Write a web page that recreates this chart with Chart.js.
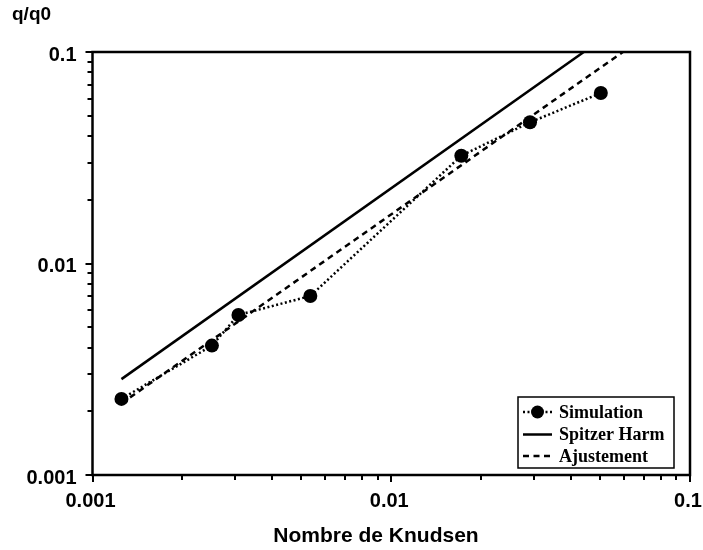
<!DOCTYPE html>
<html lang="fr">
<head>
<meta charset="UTF-8">
<title>q/q0 vs Nombre de Knudsen</title>
<script src="https://cdn.jsdelivr.net/npm/chart.js"></script>
<style>
  * { margin: 0; padding: 0; box-sizing: border-box; }
  body { background: #fff; width: 703px; height: 550px; overflow: hidden; }
  canvas { display: block; }
</style>
</head>
<body>
<canvas id="chart" width="703" height="550"></canvas>
<script>
// Data
const knudsen = [0.00125, 0.00251, 0.00308, 0.00536, 0.01716, 0.02914, 0.0503];
const simulation = [0.00229, 0.00409, 0.00571, 0.00702, 0.03234, 0.04651, 0.0640];
const spitzerX = [0.00125, 0.0441];
const spitzerY = [0.00284, 0.1];
const fitX = [0.00125, 0.0596];
const fitY = [0.00218, 0.1];

const decadeValues = [0.001, 0.01, 0.1];
const decadeLabels = ['0.001', '0.01', '0.1'];
const minorSteps = [2, 3, 4, 5, 6, 7, 8, 9];

const seriesNames = ['Simulation', 'Spitzer Harm', 'Ajustement'];
const xTitle = 'Nombre de Knudsen';
const yTitle = 'q/q0';

const SANS = '"Liberation Sans", Arial, sans-serif';
const SERIF = '"Liberation Serif", "Times New Roman", serif';

const toPoints = (xs, ys) => xs.map((x, i) => ({ x: x, y: ys[i] }));

function isDecade(v) {
  return decadeValues.some(d => Math.abs(v / d - 1) < 1e-6);
}

function buildTicks(scale) {
  const ticks = [];
  for (let i = 0; i < decadeValues.length; i++) {
    ticks.push({ value: decadeValues[i] });
    if (i < decadeValues.length - 1) {
      minorSteps.forEach(k => ticks.push({ value: k * decadeValues[i] }));
    }
  }
  scale.ticks = ticks;
}

function tickLabel(value) {
  const i = decadeValues.findIndex(d => Math.abs(value / d - 1) < 1e-6);
  return i >= 0 ? decadeLabels[i] : '';
}

// frame, tick marks, axis titles and the boxed legend
const decorations = {
  id: 'decorations',
  afterDraw(chart) {
    const ctx = chart.ctx;
    const area = chart.chartArea;
    const xs = chart.scales.x;
    const ys = chart.scales.y;
    ctx.save();
    ctx.strokeStyle = '#000';
    ctx.lineCap = 'butt';

    // tick marks outside the frame
    ctx.lineWidth = 2;
    ys.ticks.forEach(t => {
      const py = Math.round(ys.getPixelForValue(t.value));
      const len = isDecade(t.value) ? 7 : 5;
      ctx.beginPath();
      ctx.moveTo(area.left - len, py);
      ctx.lineTo(area.left, py);
      ctx.stroke();
    });
    xs.ticks.forEach(t => {
      const px = Math.round(xs.getPixelForValue(t.value));
      const len = isDecade(t.value) ? 7 : 5;
      ctx.beginPath();
      ctx.moveTo(px, area.bottom);
      ctx.lineTo(px, area.bottom + len);
      ctx.stroke();
    });

    // frame
    ctx.lineWidth = 2.5;
    ctx.strokeRect(area.left, area.top, area.right - area.left, area.bottom - area.top);

    // axis titles
    ctx.fillStyle = '#000';
    ctx.font = 'bold 21px ' + SANS;
    ctx.textAlign = 'center';
    ctx.textBaseline = 'middle';
    ctx.fillText(xTitle, 376, 536);
    ctx.font = 'bold 19px ' + SANS;
    ctx.textAlign = 'left';
    ctx.fillText(yTitle, 12, 15);

    // legend
    const box = { left: 518, top: 397, width: 156, height: 71 };
    ctx.fillStyle = '#fff';
    ctx.fillRect(box.left, box.top, box.width, box.height);
    ctx.lineWidth = 1.5;
    ctx.strokeRect(box.left, box.top, box.width, box.height);
    const rows = [412, 434.5, 456];
    ctx.font = 'bold 18px ' + SERIF;
    ctx.textBaseline = 'middle';
    chart.data.datasets.forEach((ds, i) => {
      const y = rows[i];
      ctx.strokeStyle = ds.borderColor;
      ctx.lineWidth = ds.borderWidth;
      ctx.setLineDash(ds.borderDash || []);
      ctx.beginPath();
      ctx.moveTo(523, y);
      ctx.lineTo(552, y);
      ctx.stroke();
      ctx.setLineDash([]);
      if (ds.pointRadius > 0) {
        ctx.fillStyle = ds.pointBackgroundColor;
        ctx.beginPath();
        ctx.arc(537.5, y, ds.pointRadius - 0.5, 0, Math.PI * 2);
        ctx.fill();
      }
      ctx.fillStyle = '#000';
      ctx.fillText(ds.label, 559, y + 1);
    });
    ctx.restore();
  }
};

new Chart(document.getElementById('chart'), {
  type: 'scatter',
  data: {
    datasets: [
      {
        label: seriesNames[0],
        data: toPoints(knudsen, simulation),
        showLine: true,
        borderColor: '#000',
        borderWidth: 2.5,
        borderDash: [2, 2.5],
        pointRadius: 7,
        pointHoverRadius: 7,
        pointBackgroundColor: '#000',
        pointBorderWidth: 0
      },
      {
        label: seriesNames[1],
        data: toPoints(spitzerX, spitzerY),
        showLine: true,
        borderColor: '#000',
        borderWidth: 2.5,
        pointRadius: 0
      },
      {
        label: seriesNames[2],
        data: toPoints(fitX, fitY),
        showLine: true,
        borderColor: '#000',
        borderWidth: 2.5,
        borderDash: [6, 4.5],
        pointRadius: 0
      }
    ]
  },
  options: {
    responsive: false,
    animation: false,
    devicePixelRatio: 1,
    layout: { padding: { top: 52, right: 13, left: 0, bottom: 0 } },
    plugins: {
      legend: { display: false },
      tooltip: { enabled: false }
    },
    scales: {
      x: {
        type: 'logarithmic',
        min: 0.001,
        max: 0.1,
        afterBuildTicks: buildTicks,
        afterFit: scale => {
          scale.height = 75;
          scale.paddingLeft = 0;
          scale.paddingRight = 0;
        },
        grid: { display: false, drawTicks: false },
        border: { display: false },
        ticks: {
          autoSkip: false,
          maxRotation: 0,
          padding: 14,
          labelOffset: -2,
          color: '#000',
          font: { family: SANS, size: 20, weight: 'bold' },
          callback: tickLabel
        }
      },
      y: {
        type: 'logarithmic',
        min: 0.001,
        max: 0.1,
        afterBuildTicks: buildTicks,
        afterFit: scale => {
          scale.width = 92.5;
          scale.paddingTop = 0;
          scale.paddingBottom = 0;
        },
        grid: { display: false, drawTicks: false },
        border: { display: false },
        ticks: {
          autoSkip: false,
          padding: 16,
          labelOffset: 3,
          color: '#000',
          font: { family: SANS, size: 20, weight: 'bold' },
          callback: tickLabel
        }
      }
    }
  },
  plugins: [decorations]
});
</script>
</body>
</html>
